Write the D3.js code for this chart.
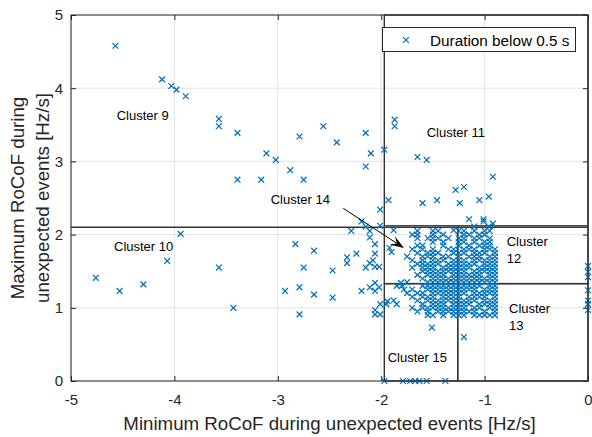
<!DOCTYPE html>
<html>
<head>
<meta charset="utf-8">
<script src="https://cdn.jsdelivr.net/npm/d3@7"></script>
<style>
  body { margin: 0; background: #fff; }
  svg { font-family: "Liberation Sans", Arial, Helvetica, sans-serif; }
</style>
</head>
<body>
<div id="chart"></div>
<script>
// ticks
const xTicks = [-5, -4, -3, -2, -1, 0];
const yTicks = [0, 1, 2, 3, 4, 5];

// scattered events [min RoCoF, max RoCoF]
const sparsePoints = [
  [-4.57, 4.58], [-4.12, 4.12], [-4.03, 4.03], [-3.98, 3.98], [-3.89, 3.89],
  [-3.57, 3.58], [-3.57, 3.48], [-3.39, 3.39], [-3.39, 2.75], [-3.16, 2.75],
  [-3.11, 3.11], [-3.02, 3.02], [-2.88, 2.88], [-2.79, 3.34], [-2.75, 2.75],
  [-2.56, 3.48], [-2.43, 3.26], [-2.15, 3.39], [-2.10, 3.11], [-2.15, 2.93],
  [-1.97, 3.16], [-1.87, 3.57], [-1.87, 3.48], [-1.65, 3.06], [-1.56, 3.02],
  [-0.92, 2.79], [-1.28, 2.61], [-1.20, 2.65], [-1.93, 2.47], [-1.60, 2.43],
  [-1.46, 2.47], [-1.24, 2.43], [-1.05, 2.47], [-0.96, 2.52], [-2.01, 2.34],
  [-2.19, 2.18], [-2.29, 2.05], [-2.15, 2.11], [-2.01, 2.12], [-2.11, 2.05],
  [-1.15, 2.21], [-1.01, 2.21], [-1.01, 2.18], [-0.92, 2.15], [-1.10, 2.11],
  [-0.96, 2.11], [-1.88, 2.06], [-1.30, 2.06],
  [-4.76, 1.41], [-4.53, 1.23], [-4.30, 1.32], [-4.07, 1.64], [-3.94, 2.01],
  [-3.57, 1.55], [-3.43, 1.00],
  [-2.93, 1.23], [-2.83, 1.87], [-2.79, 1.28], [-2.79, 0.91], [-2.75, 1.55],
  [-2.65, 1.78], [-2.65, 1.18], [-2.47, 1.51], [-2.47, 1.14], [-2.33, 1.69],
  [-2.33, 1.61], [-2.24, 1.74], [-2.19, 1.23],
  [-2.06, 1.87], [-2.06, 1.74], [-2.11, 1.96], [-2.11, 1.61], [-2.08, 1.65],
  [-2.06, 1.56], [-2.15, 1.55], [-2.02, 1.56],
  [-2.11, 1.28], [-2.06, 1.34], [-2.06, 1.23], [-2.02, 1.28], [-2.01, 1.05],
  [-1.95, 1.05], [-2.06, 0.97], [-2.06, 0.91], [-2.01, 0.91],
  [-1.92, 1.82], [-1.90, 1.76], [-1.94, 1.09], [-1.88, 1.10], [-1.81, 1.34],
  [-1.97, 0], [-1.79, 0], [-1.72, 0], [-1.67, 0], [-1.63, 0], [-1.56, 0], [-1.38, 0],
  [-1.51, 0.73], [-1.20, 0.60],
  [0, 1.57], [0, 1.49], [0, 1.42], [0, 1.24], [0, 1.10], [0, 1.05], [0, 0.97]
];

// dense core, one row per max RoCoF value with its min RoCoF values
const denseRows = [
  { y: 2.05, xs: [-1.65, -1.5, -1.45, -1.25, -1.2, -1.1, -1.0, -0.95] },
  { y: 2.00, xs: [-1.7, -1.65, -1.5, -1.4, -1.2, -1.15, -1.05, -1.0] },
  { y: 1.95, xs: [-1.65, -1.55, -1.5, -1.45, -1.35, -1.25, -1.2, -1.1, -1.05, -0.95] },
  { y: 1.90, xs: [-1.5, -1.4, -1.25, -1.2, -1.1, -1.0, -0.95] },
  { y: 1.85, xs: [-1.65, -1.6, -1.4, -1.25, -1.15, -1.05, -1.0, -0.95] },
  { y: 1.80, xs: [-1.7, -1.6, -1.5, -1.35, -1.3, -1.2, -1.15, -1.1, -1.0, -0.95, -0.9] },
  { y: 1.75, xs: [-1.65, -1.55, -1.5, -1.45, -1.3, -1.25, -1.2, -1.1, -1.05, -1.0, -0.9] },
  { y: 1.70, xs: [-1.75, -1.6, -1.55, -1.5, -1.4, -1.35, -1.25, -1.15, -1.1, -1.05, -0.95, -0.9] },
  { y: 1.65, xs: [-1.7, -1.6, -1.5, -1.45, -1.4, -1.3, -1.25, -1.2, -1.1, -1.05, -1.0, -0.95, -0.9] },
  { y: 1.60, xs: [-1.65, -1.6, -1.55, -1.5, -1.45, -1.35, -1.3, -1.25, -1.2, -1.15, -1.1, -1.0, -0.95, -0.9] },
  { y: 1.55, xs: [-1.7, -1.6, -1.55, -1.5, -1.4, -1.35, -1.3, -1.25, -1.2, -1.15, -1.05, -1.0, -0.95, -0.9] },
  { y: 1.50, xs: [-1.6, -1.55, -1.5, -1.45, -1.4, -1.35, -1.3, -1.25, -1.2, -1.1, -1.05, -1.0, -0.95, -0.9] },
  { y: 1.45, xs: [-1.65, -1.55, -1.5, -1.45, -1.4, -1.3, -1.25, -1.2, -1.15, -1.1, -1.05, -0.95, -0.9] },
  { y: 1.40, xs: [-1.6, -1.5, -1.45, -1.4, -1.35, -1.3, -1.25, -1.2, -1.15, -1.1, -1.05, -1.0, -0.95, -0.9] },
  { y: 1.35, xs: [-1.75, -1.55, -1.5, -1.45, -1.4, -1.35, -1.3, -1.25, -1.2, -1.15, -1.1, -1.05, -1.0, -0.95, -0.9] },
  { y: 1.30, xs: [-1.85, -1.8, -1.6, -1.55, -1.5, -1.45, -1.4, -1.35, -1.3, -1.25, -1.2, -1.15, -1.1, -1.05, -0.95, -0.9] },
  { y: 1.25, xs: [-1.78, -1.7, -1.55, -1.5, -1.45, -1.4, -1.35, -1.3, -1.25, -1.2, -1.15, -1.1, -1.0, -0.95, -0.9] },
  { y: 1.20, xs: [-1.75, -1.65, -1.6, -1.5, -1.45, -1.4, -1.35, -1.3, -1.25, -1.2, -1.1, -1.05, -1.0, -0.95, -0.9] },
  { y: 1.15, xs: [-1.7, -1.6, -1.55, -1.5, -1.4, -1.35, -1.3, -1.25, -1.15, -1.1, -1.05, -1.0, -0.9] },
  { y: 1.10, xs: [-1.65, -1.55, -1.5, -1.45, -1.4, -1.35, -1.3, -1.25, -1.2, -1.15, -1.1, -1.0, -0.95, -0.9] },
  { y: 1.05, xs: [-1.85, -1.6, -1.5, -1.45, -1.4, -1.3, -1.25, -1.2, -1.15, -1.05, -1.0, -0.95, -0.9] },
  { y: 1.00, xs: [-1.7, -1.6, -1.55, -1.5, -1.45, -1.4, -1.35, -1.3, -1.25, -1.2, -1.1, -1.05, -0.95, -0.9] },
  { y: 0.95, xs: [-1.65, -1.55, -1.45, -1.4, -1.35, -1.3, -1.25, -1.2, -1.15, -1.1, -1.0, -0.9] },
  { y: 0.90, xs: [-1.55, -1.5, -1.4, -1.3, -1.25, -1.2, -1.1, -1.05, -1.0, -0.95, -0.9] }
];

// cluster regions [x0, x1, y0, y1] in data units
const clusterBoxes = [
  [-1.97, 0, 2.12, 5],
  [-1.97, -1.26, 1.33, 2.1],
  [-1.26, 0, 1.33, 2.1],
  [-1.26, 0, 0, 1.33],
  [-1.97, -1.26, 0, 1.33]
];
const clusterLine = [[-5, 2.1], [-1.97, 2.1]];

// cluster labels: [x, y, lines]
const clusterLabels = [
  [-4.558, 3.566, ["Cluster 9"]],
  [-4.584, 1.776, ["Cluster 10"]],
  [-1.560, 3.333, ["Cluster 11"]],
  [-3.069, 2.414, ["Cluster 14"]],
  [-0.786, 1.844, ["Cluster", "12"]],
  [-0.764, 0.925, ["Cluster", "13"]],
  [-1.937, 0.264, ["Cluster 15"]]
];
const arrowFrom = [-2.367, 2.359];
const arrowTo = [-1.78, 1.817];

const width = 592, height = 437;
const margin = { left: 71, right: 4, top: 15, bottom: 56 };
const blue = "#0072BD", axisColor = "#262626";

const points = sparsePoints.concat(
  denseRows.flatMap(r => r.xs.map(x => [x, r.y]))
);

const svg = d3.select("#chart").append("svg")
  .attr("width", width)
  .attr("height", height);

const x = d3.scaleLinear().domain([-5, 0]).range([margin.left, width - margin.right]);
const y = d3.scaleLinear().domain([0, 5]).range([height - margin.bottom, margin.top]);

// grid
svg.append("g").selectAll("line")
  .data(xTicks)
  .join("line")
  .attr("x1", d => x(d)).attr("x2", d => x(d))
  .attr("y1", y(0)).attr("y2", y(5))
  .attr("stroke", "#e3e3e3");
svg.append("g").selectAll("line")
  .data(yTicks)
  .join("line")
  .attr("x1", x(-5)).attr("x2", x(0))
  .attr("y1", d => y(d)).attr("y2", d => y(d))
  .attr("stroke", "#e3e3e3");

// axes
const fmt = d => String(d);
function styleAxis(g) {
  g.select(".domain").remove();
  g.selectAll(".tick line").attr("stroke", axisColor);
  g.selectAll(".tick text").attr("fill", axisColor).style("font-size", "15px");
}
svg.append("g")
  .attr("transform", `translate(0,${y(0)})`)
  .call(d3.axisBottom(x).tickValues(xTicks).tickFormat(fmt).tickSizeInner(-5).tickSizeOuter(0).tickPadding(13))
  .call(styleAxis);
svg.append("g")
  .attr("transform", `translate(${x(-5)},0)`)
  .call(d3.axisLeft(y).tickValues(yTicks).tickFormat(fmt).tickSizeInner(-5).tickSizeOuter(0).tickPadding(8))
  .call(styleAxis);
svg.append("g")
  .attr("transform", `translate(0,${y(5)})`)
  .call(d3.axisTop(x).tickValues(xTicks).tickFormat("").tickSizeInner(-5).tickSizeOuter(0))
  .call(styleAxis);
svg.append("g")
  .attr("transform", `translate(${x(0)},0)`)
  .call(d3.axisRight(y).tickValues(yTicks).tickFormat("").tickSizeInner(-5).tickSizeOuter(0))
  .call(styleAxis);

// cluster boxes
svg.append("g").selectAll("rect")
  .data(clusterBoxes)
  .join("rect")
  .attr("x", d => x(d[0]))
  .attr("y", d => y(d[3]))
  .attr("width", d => x(d[1]) - x(d[0]))
  .attr("height", d => y(d[2]) - y(d[3]))
  .attr("fill", "none")
  .attr("stroke", "#333")
  .attr("stroke-width", 1.4);
svg.append("line")
  .attr("x1", x(clusterLine[0][0])).attr("y1", y(clusterLine[0][1]))
  .attr("x2", x(clusterLine[1][0])).attr("y2", y(clusterLine[1][1]))
  .attr("stroke", "#333")
  .attr("stroke-width", 1.4);

// markers
const s = 2.9;
svg.append("g").selectAll("path")
  .data(points)
  .join("path")
  .attr("transform", d => `translate(${x(d[0])},${y(d[1])})`)
  .attr("d", `M${-s},${-s}L${s},${s}M${-s},${s}L${s},${-s}`)
  .attr("stroke", blue)
  .attr("stroke-width", 1.25)
  .attr("fill", "none");

// frame
svg.append("rect")
  .attr("x", x(-5)).attr("y", y(5))
  .attr("width", x(0) - x(-5)).attr("height", y(0) - y(5))
  .attr("fill", "none")
  .attr("stroke", axisColor)
  .attr("stroke-width", 1);

// cluster labels
clusterLabels.forEach(([lx, ly, lines]) => {
  const t = svg.append("text")
    .attr("x", x(lx)).attr("y", y(ly))
    .style("font-size", "13px")
    .attr("fill", "#000");
  lines.forEach((line, i) => {
    t.append("tspan").attr("x", x(lx)).attr("dy", i === 0 ? 0 : 16.7).text(line);
  });
});

// arrow annotation
{
  const x1 = x(arrowFrom[0]), y1 = y(arrowFrom[1]);
  const x2 = x(arrowTo[0]), y2 = y(arrowTo[1]);
  const dx = x2 - x1, dy = y2 - y1, len = Math.hypot(dx, dy);
  const ux = dx / len, uy = dy / len, nx = -uy, ny = ux;
  const hl = 14, hw = 5;
  svg.append("line")
    .attr("x1", x1).attr("y1", y1)
    .attr("x2", x2 - ux * hl * 0.6).attr("y2", y2 - uy * hl * 0.6)
    .attr("stroke", "#000").attr("stroke-width", 1);
  const bx = x2 - ux * hl, by = y2 - uy * hl;
  const mx = x2 - ux * hl * 0.6, my = y2 - uy * hl * 0.6;
  svg.append("path")
    .attr("d", `M${x2},${y2}L${bx + nx * hw},${by + ny * hw}L${mx},${my}L${bx - nx * hw},${by - ny * hw}Z`)
    .attr("fill", "#000");
}

// legend
const legend = svg.append("g");
legend.append("rect")
  .attr("x", 382.5).attr("y", 27.5)
  .attr("width", 193).attr("height", 24)
  .attr("fill", "#fff")
  .attr("stroke", axisColor);
legend.append("path")
  .attr("transform", "translate(406,40)")
  .attr("d", `M${-s},${-s}L${s},${s}M${-s},${s}L${s},${-s}`)
  .attr("stroke", blue)
  .attr("stroke-width", 1.25)
  .attr("fill", "none");
legend.append("text")
  .attr("x", 430).attr("y", 45.5)
  .style("font-size", "15.3px")
  .attr("fill", "#000")
  .text("Duration below 0.5 s");

// axis labels
svg.append("text")
  .attr("x", (x(-5) + x(0)) / 2)
  .attr("y", 430)
  .attr("text-anchor", "middle")
  .style("font-size", "18.7px")
  .attr("fill", axisColor)
  .text("Minimum RoCoF during unexpected events [Hz/s]");
const yl = svg.append("text")
  .attr("transform", `translate(24,${(y(0) + y(5)) / 2}) rotate(-90)`)
  .attr("text-anchor", "middle")
  .style("font-size", "18.7px")
  .attr("fill", axisColor);
yl.append("tspan").attr("x", 0).attr("y", 0).text("Maximum RoCoF during");
yl.append("tspan").attr("x", 0).attr("y", 25).text("unexpected events [Hz/s]");
</script>
</body>
</html>
